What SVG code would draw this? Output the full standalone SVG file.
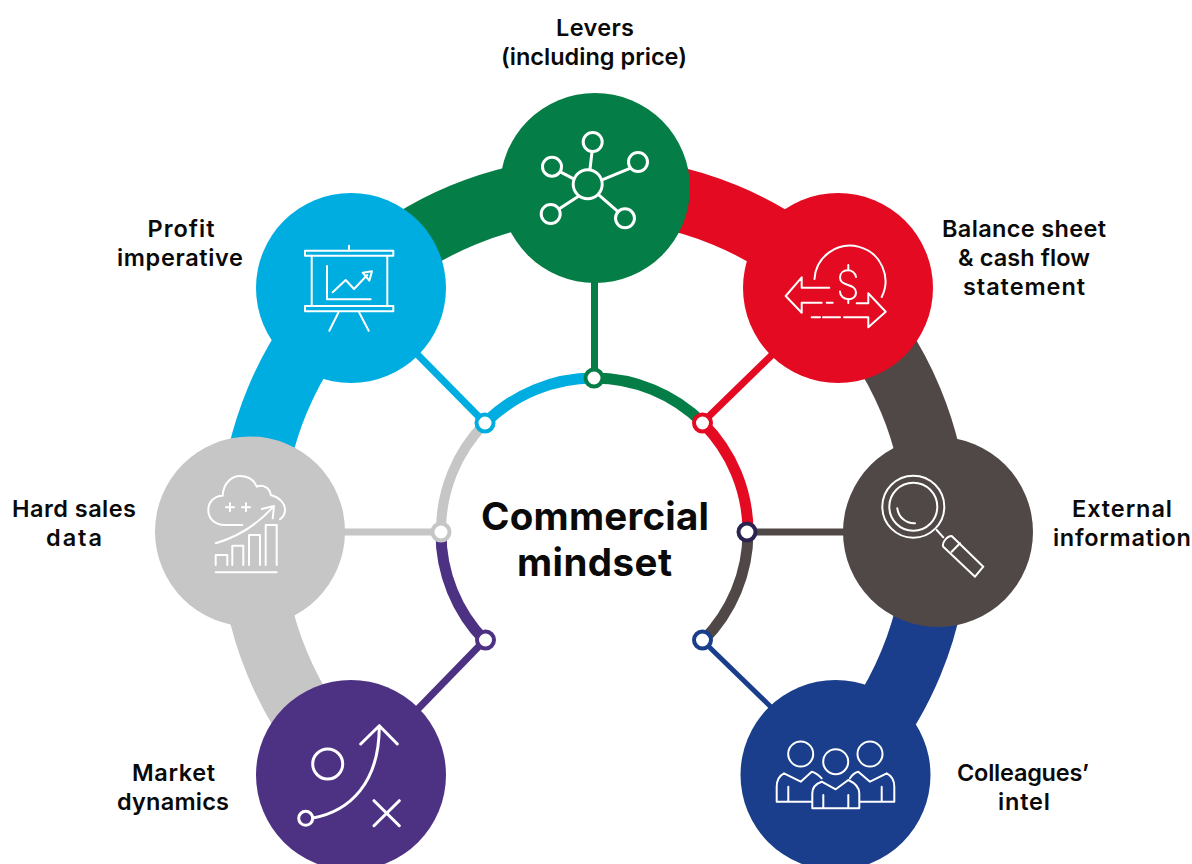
<svg xmlns="http://www.w3.org/2000/svg" width="1192" height="864" viewBox="0 0 1192 864">
<style>
.t{font-family:"Inter","Liberation Sans",sans-serif;font-weight:600;font-size:23.5px;fill:#0a0a0a;text-anchor:middle}
.h{font-family:"Inter","Liberation Sans",sans-serif;font-weight:700;font-size:38.500px;fill:#0a0a0a;text-anchor:middle}
.i{fill:none;stroke:#fff;stroke-width:2;stroke-linecap:round;stroke-linejoin:round}
.i3{stroke-width:3}
.band,.in,.sp{fill:none}
.band{stroke-width:64}
.in{stroke-width:11}
.sp{stroke-width:7}
.dot{fill:#fff;stroke-width:4}
.blue{stroke:#00ade0}.green{stroke:#057d46}.red{stroke:#e30a21}.dark{stroke:#504846}.grey{stroke:#c6c6c6}.purple{stroke:#4d3183}.navy{stroke:#1a3e8c}
</style>
<g id="connectors">
<path class="band blue" d="M251 532A343 343 0 0 1 351.5 289.5"/>
<path class="band green" d="M351.5 289.5A343 343 0 0 1 594 189"/>
<path class="band red" d="M594 189A343 343 0 0 1 836.5 289.5"/>
<path class="band dark" d="M836.5 289.5A343 343 0 0 1 937 532"/>
<path class="band navy" d="M937 532A343 343 0 0 1 836.5 774.5"/>
<path class="band grey" d="M251 532A343 343 0 0 0 351.5 774.5"/>
<path class="in blue" d="M485.1 423.1A154 154 0 0 1 594 378"/>
<path class="in green" d="M594 378A154 154 0 0 1 702.9 423.1"/>
<path class="in red" d="M702.9 423.1A154 154 0 0 1 748 532"/>
<path class="in dark" d="M748 532A154 154 0 0 1 702.9 640.9"/>
<path class="in grey" style="stroke-width:10" d="M485.1 423.1A154 154 0 0 0 441 532"/>
<path class="in purple" d="M441 532A154 154 0 0 0 485.1 640.9"/>
<path class="sp green" d="M594.5 280V378"/>
<path class="sp blue" d="M415 352L485 423"/>
<path class="sp red" d="M775 352L702 423"/>
<path class="sp dark" d="M747 532H850"/>
<path class="sp grey" d="M441 532H340"/>
<path class="sp purple" d="M485 640L415 712"/>
<path class="sp navy" style="stroke-width:5" d="M702 640L772 708"/>
<circle class="dot blue" cx="485" cy="423" r="8.5"/>
<circle class="dot green" cx="594" cy="378" r="8.5"/>
<circle class="dot red" cx="702.500" cy="423" r="8.500"/>
<circle class="dot" stroke="#2d2350" cx="747" cy="532" r="8.5"/>
<circle class="dot grey" cx="441" cy="532" r="8.5"/>
<circle class="dot purple" cx="485.500" cy="640" r="8.5"/>
<circle class="dot navy" cx="702.500" cy="640" r="8.5"/>
</g>
<g id="node-levers">
<circle cx="595" cy="188" r="95" fill="#057d46"/>
<g class="i i3"><circle cx="587.700" cy="184.300" r="14.500"/><circle cx="592.700" cy="142" r="9.500"/><circle cx="638" cy="162" r="9.500"/><circle cx="552" cy="166.700" r="9.500"/><circle cx="550.700" cy="214" r="9.500"/><circle cx="625" cy="218.300" r="9.500"/><path d="M590 169L592 152M603.300 179.300L629.300 168.700M572.700 178.300L561.300 172.300M577.700 196.700L559.300 208.700M599.300 195.300L617.700 211.300"/></g>
<text class="t" x="595" y="36" textLength="78">Levers</text>
<text class="t" x="594" y="65" textLength="186">(including price)</text>
</g>
<g id="node-profit">
<circle cx="351" cy="288" r="95" fill="#00ade0"/>
<g class="i"><rect x="305" y="250.700" width="88.300" height="5"/><rect x="305" y="306" width="88.300" height="5.300"/><path d="M349 245.700V250.700M311.700 255.700V306M387.300 255.700V306M327 266V299.300H370.700M332.700 292.300L345.700 280L354 289L367.300 275M362.700 272.700L372 271.300L369.300 280.700ZM338.300 312.700L329.300 330.700M359.300 312.700L368.700 330.700"/></g>
<text class="t" x="181" y="237" textLength="67">Profit</text>
<text class="t" x="180" y="266" textLength="126">imperative</text>
</g>
<g id="node-balance">
<circle cx="838" cy="288" r="95" fill="#e30a21"/>
<g class="i"><path d="M814.500 279A35.500 35.500 0 1 1 881.700 297M856 277C855 268 840 268 840 277.500C840 287 856 283 856 292.500C856 302 840 301 840 291.500M848.300 265V270M848.300 299V303M829.300 287.700H801.700V277.300L785.700 296L801.700 312.700V302.700H821.700M826.700 302.700H832.700M856.700 303.300H868.300V293.300L885.700 311.700L868.300 327.300V317.300H844M823 317.300H840M811.700 317.300H820"/></g>
<text class="t" x="1024" y="237" textLength="164">Balance sheet</text>
<text class="t" x="1024" y="266" textLength="132">&amp; cash flow</text>
<text class="t" x="1024" y="295" textLength="122">statement</text>
</g>
<g id="node-external">
<circle cx="938" cy="532" r="95" fill="#504846"/>
<g class="i"><circle cx="913.300" cy="506.700" r="31"/><circle cx="913.300" cy="506.700" r="24"/><path d="M897.300 508.300A17 17 0 0 0 915 523.300M936.700 530L943.300 537.300M951.700 536Q948 536 945 540Q942 544 943.300 546.700L975 576.700L983.300 566.700ZM960 543.300L951.700 551.700"/></g>
<text class="t" x="1122" y="517" textLength="100">External</text>
<text class="t" x="1122" y="546" textLength="138">information</text>
</g>
<g id="node-colleagues">
<circle cx="835.500" cy="775" r="95" fill="#1a3e8c"/>
<g class="i"><circle cx="800.700" cy="754" r="12.500"/><circle cx="835.700" cy="761.700" r="12.500"/><circle cx="870" cy="754" r="12.500"/><path d="M812.300 808.300V793.300Q812.300 785 821.700 781.700L835.700 789.300L848.300 780Q859.300 785 859.300 793.300V808.300ZM823.300 795V808.300M848.300 795V808.300M811.700 801.700H776.700V786.700Q776.700 777 784 773.300L800.700 781.700L811.700 771.700Q817 773 821.700 778.300M788.300 786.700V801.700M860 801.700H894.300V786.700Q894.300 777 886.700 773.300L870 781.700L858.300 771.700Q853 773 850 778.300M881.700 786.700V801.700"/></g>
<text class="t" x="1023" y="781" textLength="132">Colleagues’</text>
<text class="t" x="1024" y="810" textLength="52">intel</text>
</g>
<g id="node-market">
<circle cx="351" cy="775" r="95" fill="#4d3183"/>
<g class="i i3"><circle cx="327.700" cy="764" r="15"/><circle cx="305.700" cy="818.300" r="7"/><path d="M313 818C350 811 379 783 379.300 727M360.700 744L379.300 725.700L397.300 744M374 800.700L399.300 825.700M399.300 800.700L374 825.700"/></g>
<text class="t" x="173.500" y="781" textLength="83">Market</text>
<text class="t" x="173" y="810" textLength="112">dynamics</text>
</g>
<g id="node-hard-sales">
<circle cx="250" cy="531.500" r="95" fill="#c6c6c6"/>
<g class="i"><path d="M242.300 525H225C214 525 208.300 518 208.300 510C208.300 502 214 496 222.700 495.700C223 484 231 476 240 476C248 476 254 480 256.700 486.700C263 484 270 488 270.700 495C279 497 285 503 285 510C285 514 283 517 280 519.300M226 507.300H234M242 507.300H250M230 503.300V511.300M246 503.300V511.300M215.700 543.300Q250 533 273.300 506.700M261.700 509L274 506L272.700 518.300M215.700 565V555H227.300V565M232.300 565V545.700H243.300V565M249 565V535H260V565M265.700 565V525H276.700V565M215.700 572.300H276.700"/></g>
<text class="t" x="74" y="517" textLength="124">Hard sales</text>
<text class="t" x="74" y="546" textLength="56">data</text>
</g>
<g id="node-centre">
<text class="h" x="595" y="530" textLength="228">Commercial</text>
<text class="h" x="594.500" y="576" textLength="155">mindset</text>
</g>
</svg>
